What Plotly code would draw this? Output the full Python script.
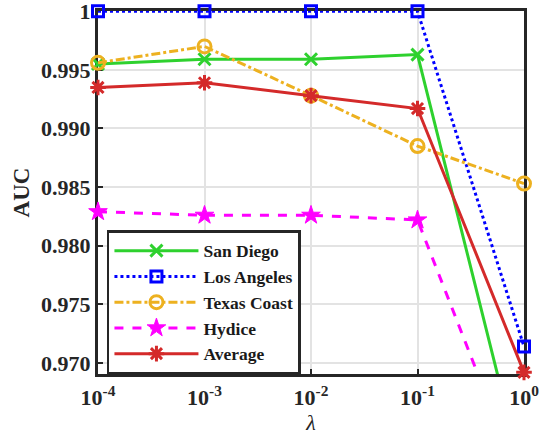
import plotly.graph_objects as go

lam = [1e-4, 1e-3, 1e-2, 1e-1, 1e0]
san_diego = [0.9955, 0.9959, 0.9959, 0.9963, 0.9600]
los_angeles = [1.0, 1.0, 1.0, 1.0, 0.9714]
texas_coast = [0.9956, 0.9970, 0.9928, 0.9885, 0.9853]
hydice = [0.9829, 0.9826, 0.9826, 0.9822, 0.9590]
average = [0.9935, 0.9939, 0.9928, 0.9917, 0.9692]

ytickvals = [0.970, 0.975, 0.980, 0.985, 0.990, 0.995, 1.0]
yticktext = ["0.970", "0.975", "0.980", "0.985", "0.990", "0.995", "1"]
xtickvals = [1e-4, 1e-3, 1e-2, 1e-1, 1e0]
xticktext = ["10<sup>-4</sup>", "10<sup>-3</sup>", "10<sup>-2</sup>", "10<sup>-1</sup>", "10<sup>0</sup>"]

YMIN, YMAX = 0.96906, 1.00002

series = [
    ("San Diego", san_diego, "#2ed12e", "solid", "x-thin-open", 12, 3),
    ("Los Angeles", los_angeles, "#0000ff", "dot", "square-open", 11, 3),
    ("Texas Coast", texas_coast, "#edb120", "dashdot", "circle-open", 13, 3),
    ("Hydice", hydice, "#ff00ff", "dash", "star", 14, 1),
    ("Average", average, "#d42a2a", "solid", "asterisk-open", 13, 3),
]

fig = go.Figure()
for name, vals, col, dash, sym, size, mlw in series:
    fig.add_trace(go.Scatter(
        x=lam, y=vals, mode="lines", name=name, legendgroup=name,
        showlegend=False, line=dict(color=col, width=3, dash=dash),
        cliponaxis=True))
    mv = [v if YMIN - 1e-9 <= v <= YMAX + 1e-9 else None for v in vals]
    fig.add_trace(go.Scatter(
        x=lam, y=mv, mode="markers", name=name, legendgroup=name,
        showlegend=False, cliponaxis=False,
        marker=dict(symbol=sym, size=size, color=col,
                    line=dict(color=col, width=mlw))))
    fig.add_trace(go.Scatter(
        x=[None], y=[None], mode="lines+markers", name=name, legendgroup=name,
        line=dict(color=col, width=3, dash=dash),
        marker=dict(symbol=sym, size=size, color=col, line=dict(color=col, width=mlw))))

font_family = "Liberation Serif, Times New Roman, serif"
fig.update_layout(
    width=545, height=441,
    margin=dict(l=98, r=21, t=11, b=67),
    plot_bgcolor="white", paper_bgcolor="white",
    font=dict(family=font_family, color="#262626"),
    showlegend=True,
    legend=dict(
        x=0.021, y=0.396, xanchor="left", yanchor="top",
        bgcolor="white", bordercolor="#262626", borderwidth=2.5,
        font=dict(size=17.5, family=font_family, color="#1a1a1a", weight="bold"),
        itemwidth=84, tracegroupgap=0,
    ),
    xaxis=dict(
        type="log", range=[-4, 0], automargin=False,
        tickvals=xtickvals, ticktext=xticktext,
        tickfont=dict(size=22, weight="bold", color="#262626"),
        ticklabelstandoff=2, ticklabeloverflow="allow",
        showgrid=True, gridcolor="#e3e3e3", gridwidth=2,
        showline=True, linecolor="#262626", linewidth=3, mirror=True,
        ticks="inside", ticklen=5, tickwidth=2, tickcolor="#262626",
        zeroline=False, layer="below traces",
        title=dict(text="<i>λ</i>", font=dict(size=22, color="#262626"), standoff=6),
    ),
    yaxis=dict(
        range=[YMIN, YMAX], automargin=False,
        tickvals=ytickvals, ticktext=yticktext,
        tickfont=dict(size=22, weight="bold", color="#262626"),
        ticklabeloverflow="allow",
        showgrid=True, gridcolor="#e3e3e3", gridwidth=2,
        showline=True, linecolor="#262626", linewidth=3, mirror=True,
        ticks="inside", ticklen=5, tickwidth=2, tickcolor="#262626",
        zeroline=False, layer="below traces",
        title=dict(text="AUC", font=dict(size=23, weight="bold", color="#262626"), standoff=6),
    ),
)

fig.write_html("out.html")
